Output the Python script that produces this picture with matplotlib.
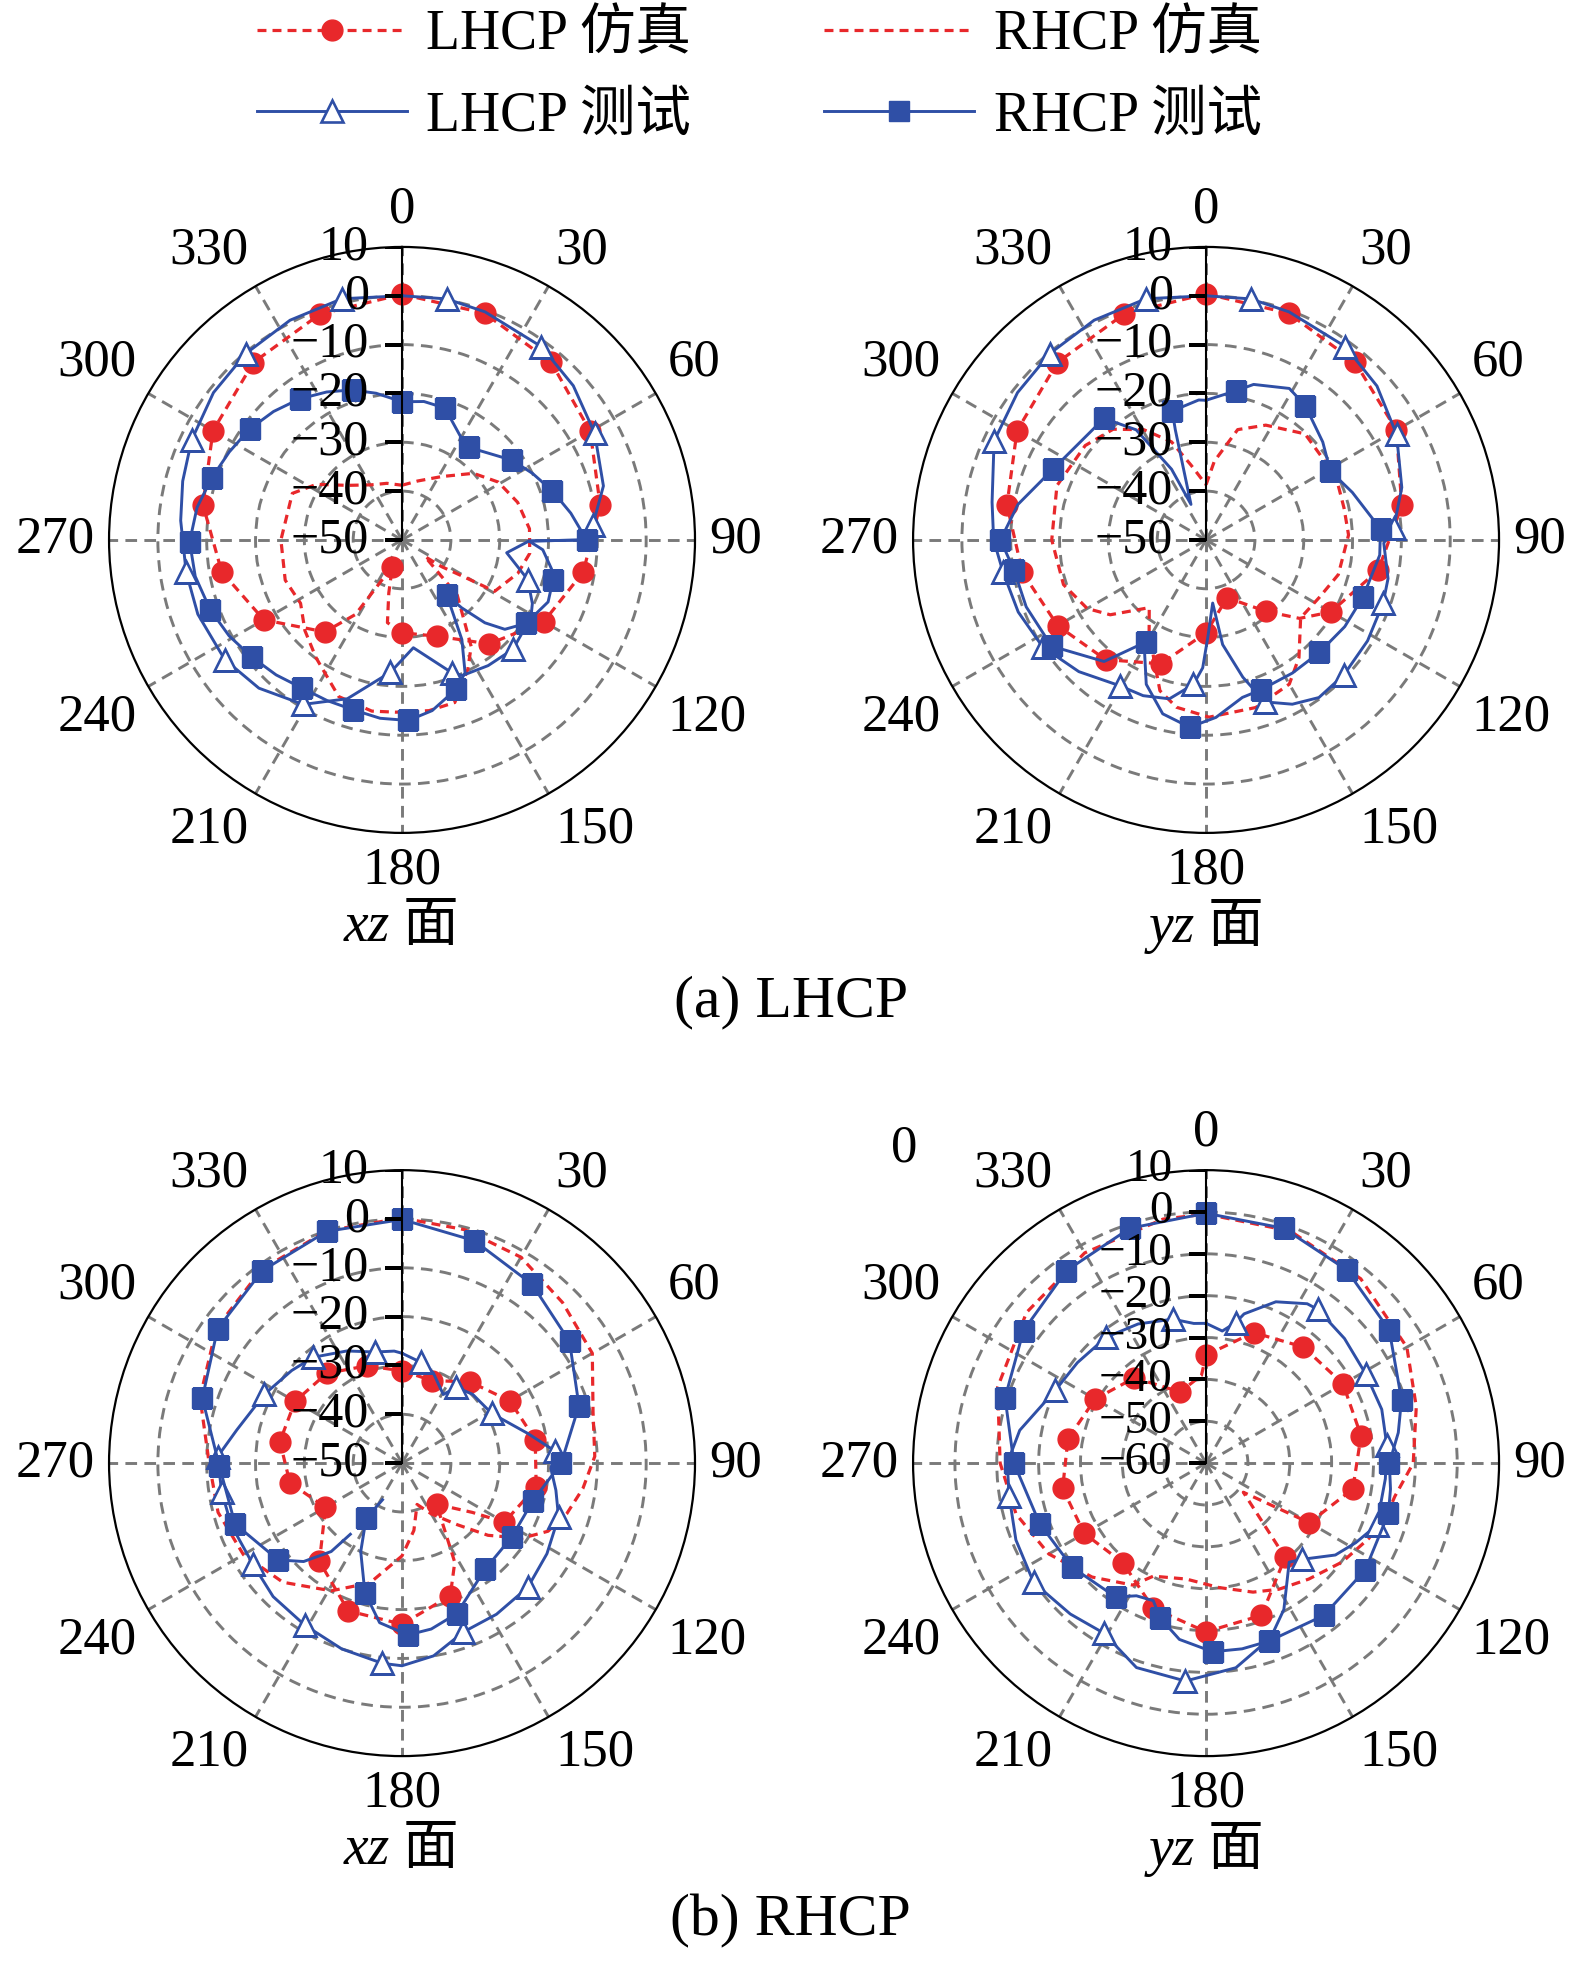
import numpy as np
import matplotlib
matplotlib.use('Agg')
import matplotlib.pyplot as plt
from matplotlib.lines import Line2D

plt.rcParams['font.family'] = ['Liberation Serif', 'Noto Sans CJK SC', 'DejaVu Sans']
plt.rcParams['axes.unicode_minus'] = True

RED = '#E8282B'
BLUE = '#2F4FA6'
GRAY = '#7A7A7A'

# ---------------- (a) LHCP, xz plane ----------------
a_xz_ls_th = [0, 20, 40, 60, 80, 100, 120, 140, 160, 180, 190, 194, 200, 212, 220, 240, 260, 280, 300, 320, 340, 360]
a_xz_ls_db = [0.3, -0.6, -2.5, -5.5, -8.8, -12.3, -16.5, -22.2, -29.0, -31.0, -32.8, -38.8, -44.2, -32.0, -25.4, -17.3,
              -12.5, -8.6, -5.3, -2.6, -0.8, 0.3]
a_xz_ls_mk = [0, 20, 40, 60, 80, 100, 120, 140, 160, 180, 200, 220, 240, 260, 280, 300, 320, 340]

a_xz_rs_th = [0, 15, 32, 47, 59, 72, 85, 96, 106, 119, 121, 124, 126, 135, 147, 153, 162, 171, 182, 190, 202, 216, 227,
              238, 251, 270, 293, 303, 315, 331, 345, 360]
a_xz_rs_db = [-38.8, -37.5, -34.7, -30.0, -27.0, -25.1, -23.8, -23.7, -25.3, -28.3, -35.7, -40.2, -44.2, -34.0, -24.0,
              -20.3, -15.0, -14.6, -14.7, -14.4, -15.4, -20.1, -22.8, -25.5, -24.7, -25.2, -25.6, -29.1, -34.2, -37.1,
              -38.0, -38.8]

a_xz_lm_th = [0, 10.5, 20, 35.8, 48, 61, 75, 85.5, 90, 90.5, 97, 107.5, 116, 121, 134.6, 145.6, 156, 159.5, 174, 185,
              199, 211, 224, 236, 250, 261.5, 275, 285, 295.4, 308, 320, 333, 346, 360]
a_xz_lm_db = [0.0, 0.2, -0.3, -1.2, -2.8, -4.9, -7.3, -10.8, -12.0, -24.0, -28.4, -23.0, -20.3, -19.2, -18.1, -18.8,
              -19.6, -21.0, -27.8, -22.8, -15.6, -10.7, -7.8, -6.2, -5.5, -5.3, -4.5, -3.5, -2.3, -1.0, -0.2, 0.5, 0.9,
              0.0]
a_xz_lm_mk = [10.5, 35.8, 61, 85.5, 107.5, 134.6, 159.5, 185, 211, 236, 261.5, 295.4, 320, 346]

a_xz_rm_th = [0, 9, 18, 30, 36, 45, 54, 63, 72, 81, 90, 90.5, 94, 101, 105, 113, 124, 131, 135, 138.7, 141, 149, 154.6,
              160, 170, 178, 187, 196, 205, 214, 223, 232, 241, 250, 260, 269.5, 279, 288, 297, 306, 315, 324, 333,
              341.5, 350, 360]
a_xz_rm_db = [-21.7, -21.3, -21.6, -25.8, -26.6, -24.9, -22.2, -20.0, -17.6, -15.0, -12.2, -24.0, -21.1, -18.8, -18.0,
              -17.5, -19.4, -22.1, -26.0, -31.5, -35.4, -26.2, -19.9, -17.5, -14.5, -13.0, -13.2, -13.8, -13.7, -13.4,
              -12.2, -11.0, -9.5, -8.2, -7.0, -6.5, -7.5, -9.0, -10.3, -11.4, -12.8, -14.3, -16.0, -17.6, -19.5, -21.7]
a_xz_rm_mk = [0, 18, 36, 54, 72, 90, 105, 124, 141, 160, 178, 196, 214, 232, 250, 269.5, 288, 306, 324, 341.5]

# ---------------- (a) LHCP, yz plane ----------------
a_yz_ls_th = [0, 20, 40, 60, 80, 100, 120, 130, 140, 160, 180, 200, 220, 240, 260, 280, 300, 320, 340, 360]
a_yz_ls_db = [0.4, -0.6, -2.5, -5.0, -9.3, -14.2, -20.5, -25.0, -30.9, -37.4, -31.0, -23.0, -18.0, -14.9, -11.8, -8.6,
              -5.3, -2.6, -0.8, 0.4]
a_yz_ls_mk = [0, 20, 40, 60, 80, 100, 120, 140, 160, 180, 200, 220, 240, 260, 280, 300, 320, 340]

a_yz_rs_th = [0, 6, 16, 27.5, 43, 64, 77, 88, 104.7, 117, 129.5, 141.7, 150, 163.5, 179, 190, 197, 204, 212, 220, 232,
              240, 252.6, 270, 290, 308, 320, 330.6, 340.6, 348.7, 360]
a_yz_rs_db = [-38.7, -33.8, -26.5, -23.5, -20.3, -20.4, -21.0, -20.8, -22.0, -24.0, -24.9, -19.3, -15.9, -14.2, -13.7,
              -15.2, -17.7, -23.6, -28.0, -31.9, -25.1, -21.9, -19.4, -18.4, -17.5, -18.6, -20.4, -24.1, -28.7, -34.4,
              -38.7]

a_yz_lm_th = [0, 10.5, 20, 35.8, 48, 61, 75, 86.4, 91, 102, 109.6, 122, 134.4, 144.4, 152.3, 160, 165, 171, 174, 179,
              181.5, 185, 193, 202, 210.6, 224, 236.8, 249, 261, 270, 280, 295, 308, 320, 333, 346, 360]
a_yz_lm_db = [0.0, 0.2, -0.3, -1.2, -2.9, -5.4, -8.5, -11.5, -13.6, -11.9, -11.5, -11.0, -10.5, -10.3, -12.0, -14.7,
              -20.9, -28.3, -37.0, -30.0, -23.8, -20.3, -16.6, -15.6, -15.3, -12.5, -10.0, -8.8, -7.9, -6.5, -5.5, -2.1,
              -1.0, -0.2, 0.5, 0.9, 0.0]
a_yz_lm_mk = [10.5, 35.8, 61, 86.4, 109.6, 134.4, 160, 185, 210.6, 236.8, 261, 295, 320, 346]

a_yz_rm_th = [0, 11.5, 17, 28.8, 36.4, 50, 61, 72, 86.4, 95, 110, 122, 134.8, 147, 160, 167, 176.8, 185, 194, 202.5,
              209, 210.4, 220, 235.5, 249.6, 261, 270, 280.7, 295, 320, 327.6, 334, 337, 344.4, 345.3, 357, 360]
a_yz_rm_db = [-21.4, -18.8, -16.7, -14.6, -15.8, -18.8, -20.9, -18.5, -14.2, -14.3, -15.8, -16.5, -17.3, -17.5, -17.3,
              -16.9, -13.6, -11.5, -13.3, -18.0, -24.0, -25.8, -17.5, -11.6, -10.7, -10.2, -7.9, -10.8, -15.5, -17.5,
              -23.3, -33.9, -42.1, -26.6, -22.7, -21.3, -21.4]
a_yz_rm_mk = [11.5, 36.4, 61, 86.4, 110, 134.8, 160, 185, 210.4, 235.5, 261, 270, 295, 320, 345.3]

# ---------------- (b) RHCP, xz plane ----------------
b_xz_ls_th = [0, 20, 40, 60, 80, 100, 120, 125, 140, 145, 152, 160, 180, 200, 220, 240, 260, 280, 300, 320, 340, 360]
b_xz_ls_db = [-31.1, -32.0, -28.3, -24.5, -22.3, -22.1, -25.8, -32.4, -39.0, -36.0, -27.0, -21.1, -17.0, -17.8, -23.7,
              -31.9, -26.7, -24.6, -24.7, -26.0, -28.8, -31.1]
b_xz_ls_mk = [0, 20, 40, 60, 80, 100, 120, 140, 160, 180, 200, 220, 240, 260, 280, 300, 320, 340]

b_xz_rs_th = [0, 15, 30, 45, 60, 75, 88, 98, 107, 115, 122, 130, 138, 150, 160, 170, 180, 195, 209, 225, 240, 255, 270,
              288, 306, 324, 342, 360]
b_xz_rs_db = [0.2, -0.5, -1.3, -3.5, -5.0, -9.5, -10.5, -12.6, -14.7, -17.0, -21.0, -27.0, -33.0, -38.0, -41.0, -36.0,
              -31.0, -24.6, -20.1, -15.5, -12.5, -11.0, -10.5, -6.5, -3.0, -1.0, 0.0, 0.2]

b_xz_lm_th = [0, 10.6, 19, 31, 35.6, 45.8, 61, 76.8, 85.6, 92, 100, 109, 122, 134.6, 148, 160, 170.7, 180, 185.6, 198,
              211, 224, 236, 250, 261, 272, 281.4, 296.6, 310, 320, 333.8, 346.5, 356, 360]
b_xz_lm_db = [-27.5, -29.0, -30.4, -33.6, -30.9, -29.8, -29.0, -23.5, -18.5, -19.5, -18.0, -16.1, -15.0, -13.8, -13.5,
              -13.2, -10.0, -8.5, -8.8, -10.0, -11.3, -12.0, -13.1, -12.8, -12.6, -12.2, -15.5, -18.5, -20.5, -21.7,
              -24.4, -26.6, -27.0, -27.5]
b_xz_lm_mk = [10.6, 35.6, 61, 85.6, 109, 134.6, 160, 185.6, 211, 236, 261, 272, 296.6, 320, 346.5]

b_xz_rm_th = [0, 18, 36, 54, 72, 90, 106, 124, 142, 160, 170, 178, 188, 196, 205, 213, 208, np.nan, 216, 218.7, 225,
              232, 250, 269, 288, 306, 324, 342, 360]
b_xz_rm_db = [-0.1, -2.1, -4.7, -7.6, -11.9, -17.4, -22.1, -22.9, -22.4, -17.2, -15.5, -14.8, -17.0, -22.4, -30.0,
              -36.5, -41.5, np.nan, -32.0, -26.8, -21.5, -17.8, -13.6, -12.6, -7.0, -3.3, -1.3, -0.1, -0.1]
b_xz_rm_mk = [0, 18, 36, 54, 72, 90, 106, 124, 142, 160, 178, 196, 213, 232, 250, 269, 288, 306, 324, 342]

# ---------------- (b) RHCP, yz plane ----------------
b_yz_ls_th = [0, 20, 40, 60, 80, 100, 120, 128, 140, 160, 180, 200, 220, 240, 260, 280, 300, 320, 340, 357, 360]
b_yz_ls_db = [-34.2, -26.8, -23.8, -22.2, -22.4, -24.4, -31.5, -48.7, -30.6, -21.3, -19.7, -23.1, -29.0, -26.4, -25.2,
              -26.5, -29.4, -33.4, -41.9, -39.0, -34.2]
b_yz_ls_mk = [0, 20, 40, 60, 80, 100, 120, 140, 160, 180, 200, 220, 240, 260, 280, 300, 320, 340]

b_yz_rs_th = [0, 20, 40, 60, 75, 90, 100, 107.5, 115, 126, 138.5, 150, 160, 174, 189.7, 205, 211, 225, 240, 255, 270,
              290, 310, 330, 350, 360]
b_yz_rs_db = [-0.5, -1.0, -2.5, -4.6, -8.0, -10.5, -14.2, -15.2, -17.2, -19.8, -23.0, -25.2, -27.2, -30.1, -31.9, -30.2,
              -26.0, -21.5, -16.6, -13.0, -10.8, -7.0, -4.0, -2.0, -0.8, -0.5]

b_yz_lm_th = [0, 7, 11.9, 14.3, 23.4, 32.4, 36, 48, 61, 73, 84.4, 95, 110, 118, 125.4, 135, 140, 152, 159.7, 171.7,
              185.4, 198.8, 211, 222, 235.3, 248, 260.6, 270, 280, 295.8, 308, 321.5, 334, 347, 355, 360]
b_yz_lm_db = [-26.6, -28.2, -25.7, -23.2, -18.0, -14.9, -14.6, -15.5, -16.3, -16.1, -16.6, -17.0, -16.6, -19.5, -22.1,
              -27.5, -29.1, -20.4, -15.5, -10.6, -7.7, -8.4, -12.6, -11.5, -9.9, -11.0, -12.3, -12.5, -14.8, -20.0,
              -21.0, -21.6, -23.0, -24.7, -26.5, -26.6]
b_yz_lm_mk = [11.9, 36, 61, 84.4, 110, 135, 185.4, 211, 235.3, 260.6, 295.8, 321.5, 347]

b_yz_rm_th = [0, 18.3, 36, 54, 72, 81, 90, 98, 105.4, 123.9, 142.3, 160.5, 169, 178, 188.6, 196.5, 201, 207.7, 214, 232,
              250, 270, 288, 306, 324, 342, 360]
b_yz_rm_db = [-0.3, -0.9, -2.9, -5.9, -10.9, -13.5, -16.2, -15.5, -14.8, -14.2, -14.0, -14.9, -14.8, -14.9, -17.4,
              -21.4, -24.8, -24.2, -21.4, -19.5, -17.7, -14.1, -9.5, -6.1, -3.2, -1.0, -0.3]
b_yz_rm_mk = [0, 18.3, 36, 54, 72, 90, 105.4, 123.9, 142.3, 160.5, 178, 196.5, 214, 232, 250, 270, 288, 306, 324, 342]

angle_ticks = list(range(0, 360, 30))
legend_labels = ['LHCP 仿真', 'LHCP 测试', 'RHCP 仿真', 'RHCP 测试']

STYLE_LS = dict(color=RED, ls=(0, (2.8, 1.9)), lw=2.3, marker='o', ms=15, mfc=RED, mec=RED)
STYLE_RS = dict(color=RED, ls=(0, (2.8, 1.9)), lw=2.3)
STYLE_LM = dict(color=BLUE, ls='-', lw=2.1, marker='^', ms=16, mfc='white', mec=BLUE, mew=1.9)
STYLE_RM = dict(color=BLUE, ls='-', lw=2.1, marker='s', ms=15, mfc=BLUE, mec=BLUE)


def draw(ax, th, db, mk, style):
    th = np.asarray(th, float)
    db = np.asarray(db, float)
    kw = dict(style)
    if mk is not None:
        kw['markevery'] = [int(np.where(th == a)[0][0]) for a in mk]
    ax.plot(np.deg2rad(th), db, zorder=3, **kw)


def panel(rect, rmin, series, ticks_shown, rfont=36):
    ax = fig.add_axes(rect, projection='polar')
    ax.set_theta_zero_location('N')
    ax.set_theta_direction(-1)
    ax.set_ylim(rmin, 10)
    ax.set_yticks(np.arange(rmin + 10, 10, 10))
    ax.set_yticklabels([])
    ax.set_xticks(np.deg2rad(angle_ticks))
    ax.set_xticklabels([])
    ax.tick_params(length=0)
    ax.grid(True, color=GRAY, linestyle=(0, (4, 2.5)), lw=2.1)
    ax.spines['polar'].set_linewidth(1.6)
    ax.spines['polar'].set_color('black')

    for th, db, mk, st in series:
        draw(ax, th, db, mk, st)

    # solid radial axis with ticks and labels at 0 degrees
    rt = np.arange(rmin, 11, 10)
    ax.plot([0, 0], [rmin, 10], color='k', lw=1.5, zorder=4)
    ax.plot(np.zeros(len(rt)), rt, ls='none', marker=0, ms=12, mew=1.5, color='k', zorder=4)
    for r in rt:
        ax.annotate(str(int(r)).replace('-', '\u2212'), xy=(0, r), xytext=(-24, 0), textcoords='offset points',
                    ha='right', va='center', fontsize=rfont, zorder=6, annotation_clip=False)

    # angle labels around the outside
    for deg in ticks_shown:
        s, c = np.sin(np.deg2rad(deg)), np.cos(np.deg2rad(deg))
        ha = 'left' if s > 0.1 else ('right' if s < -0.1 else 'center')
        va = 'bottom' if c > 0.1 else ('top' if c < -0.1 else 'center')
        ax.annotate(str(deg), xy=(np.deg2rad(deg), 10), xytext=(10 * s, 10 * c), textcoords='offset points',
                    ha=ha, va=va, fontsize=38, annotation_clip=False)
    return ax


fig = plt.figure(figsize=(15.75, 19.63), dpi=100)

W, H = 0.3721, 0.2985
panel([0.0692, 0.5757, W, H], -50, [
    (a_xz_rs_th, a_xz_rs_db, None, STYLE_RS),
    (a_xz_ls_th, a_xz_ls_db, a_xz_ls_mk, STYLE_LS),
    (a_xz_lm_th, a_xz_lm_db, a_xz_lm_mk, STYLE_LM),
    (a_xz_rm_th, a_xz_rm_db, a_xz_rm_mk, STYLE_RM),
], angle_ticks)

panel([0.5797, 0.5757, W, H], -50, [
    (a_yz_rs_th, a_yz_rs_db, None, STYLE_RS),
    (a_yz_ls_th, a_yz_ls_db, a_yz_ls_mk, STYLE_LS),
    (a_yz_lm_th, a_yz_lm_db, a_yz_lm_mk, STYLE_LM),
    (a_yz_rm_th, a_yz_rm_db, a_yz_rm_mk, STYLE_RM),
], angle_ticks)

panel([0.0692, 0.1054, W, H], -50, [
    (b_xz_rs_th, b_xz_rs_db, None, STYLE_RS),
    (b_xz_ls_th, b_xz_ls_db, b_xz_ls_mk, STYLE_LS),
    (b_xz_lm_th, b_xz_lm_db, b_xz_lm_mk, STYLE_LM),
    (b_xz_rm_th, b_xz_rm_db, b_xz_rm_mk, STYLE_RM),
], angle_ticks[1:])

panel([0.5797, 0.1054, W, H], -60, [
    (b_yz_rs_th, b_yz_rs_db, None, STYLE_RS),
    (b_yz_ls_th, b_yz_ls_db, b_yz_ls_mk, STYLE_LS),
    (b_yz_lm_th, b_yz_lm_db, b_yz_lm_mk, STYLE_LM),
    (b_yz_rm_th, b_yz_rm_db, b_yz_rm_mk, STYLE_RM),
], angle_ticks, rfont=34)

# legend
handles = [Line2D([], [], **STYLE_LS), Line2D([], [], **STYLE_LM),
           Line2D([], [], **STYLE_RS), Line2D([], [], **STYLE_RM)]
fig.legend(handles, legend_labels, loc='upper left', bbox_to_anchor=(0.163, 0.995), ncol=2, frameon=False,
           fontsize=40, handlelength=2.7, handletextpad=0.35, columnspacing=2.4, labelspacing=0.52,
           borderaxespad=0, borderpad=0, numpoints=1)

# captions
fig.text(0.2552, 0.5278, 'xz 面', ha='center', va='center', fontsize=40, style='italic')
fig.text(0.7657, 0.5278, 'yz 面', ha='center', va='center', fontsize=40, style='italic')
fig.text(0.502, 0.4896, '(a) LHCP', ha='center', va='center', fontsize=43)
fig.text(0.2552, 0.0576, 'xz 面', ha='center', va='center', fontsize=40, style='italic')
fig.text(0.7657, 0.0576, 'yz 面', ha='center', va='center', fontsize=40, style='italic')
fig.text(0.502, 0.0211, '(b) RHCP', ha='center', va='center', fontsize=43)
fig.text(0.574, 0.4147, '0', ha='center', va='center', fontsize=38)

fig.savefig('out.png', dpi=100)
